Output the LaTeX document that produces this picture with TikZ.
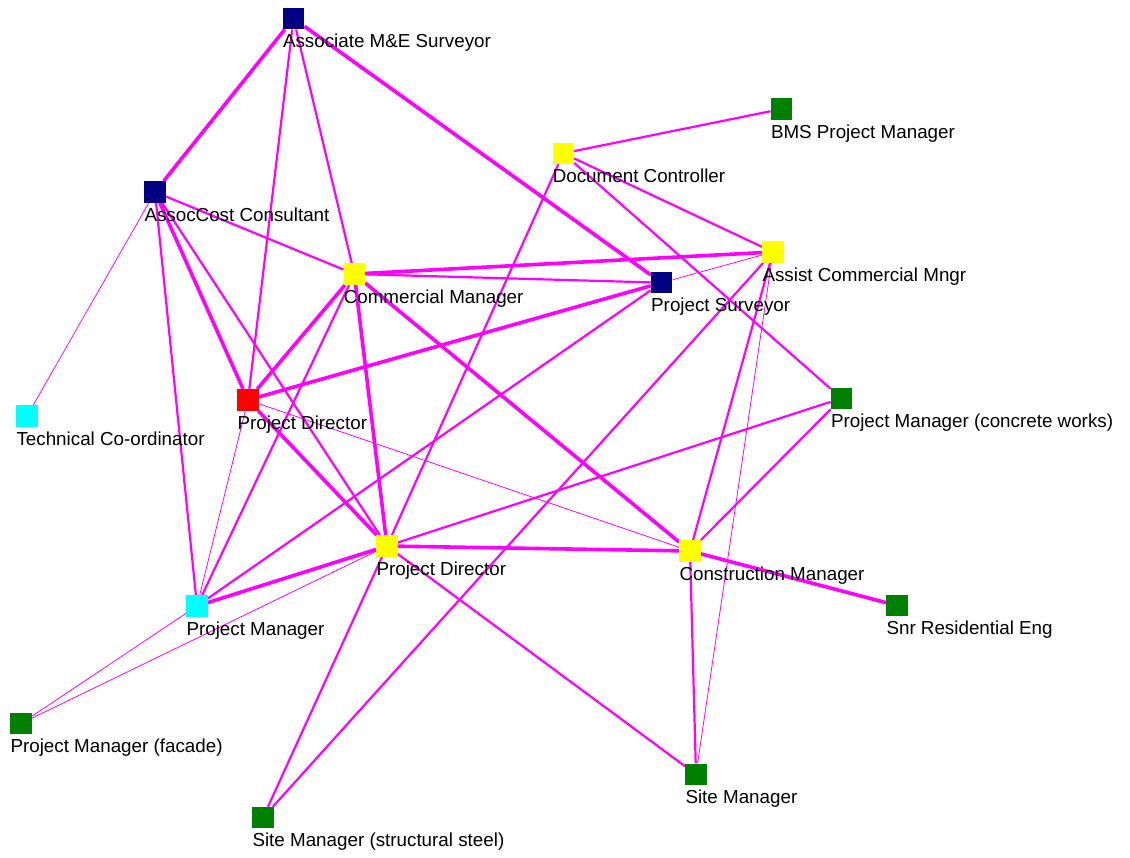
\documentclass[tikz,border=0pt]{standalone}
\usepackage{fontspec}
\setmainfont{Liberation Sans}
\usetikzlibrary{backgrounds}
\definecolor{linkpink}{RGB}{255,0,255}
\definecolor{navyblue}{RGB}{0,0,128}
\definecolor{darkgreen}{RGB}{0,128,0}
\definecolor{roleyellow}{RGB}{255,255,0}
\definecolor{rolecyan}{RGB}{0,255,255}
\definecolor{rolered}{RGB}{255,0,0}

\tikzset{
  every role/.style={rectangle, minimum size=21.5pt, inner sep=0pt},
  role label/.style={anchor=base west, inner sep=0pt, font=\fontsize{18.8}{22}\selectfont},
  thin link/.style={draw=linkpink, line width=0.8pt},
  link/.style={draw=linkpink, line width=2.2pt},
  thick link/.style={draw=linkpink, line width=3.6pt}
}

\begin{document}
\begin{tikzpicture}[x=1pt, y=-1pt]
\useasboundingbox (0,0) rectangle (1130,857);

            % draw nodes
                % roles
                \foreach \n/\x/\y/\c/\t in {
                    ame/293.5/18.5/navyblue/Associate M\&E Surveyor,
                    bms/781.5/109/darkgreen/BMS Project Manager,
                    doc/563.3/153.3/roleyellow/Document Controller,
                    acc/155/192/navyblue/AssocCost Consultant,
                    acm/773/252/roleyellow/Assist Commercial Mngr,
                    com/354.3/274/roleyellow/Commercial Manager,
                    ps/661.7/282.7/navyblue/Project Surveyor,
                    tech/27/416/rolecyan/Technical Co-ordinator,
                    pdr/248/400/rolered/Project Director,
                    pmc/841.5/398.3/darkgreen/Project Manager (concrete works),
                    pdy/387/546/roleyellow/Project Director,
                    cm/690/551/roleyellow/Construction Manager,
                    snr/897/605.5/darkgreen/Snr Residential Eng,
                    pm/197/606/rolecyan/Project Manager,
                    pmf/21/723.5/darkgreen/Project Manager (facade),
                    sm/696/774.3/darkgreen/Site Manager,
                    sms/263/817.7/darkgreen/Site Manager (structural steel)}
                {
                \node [every role, fill=\c] (\n) at (\x,\y) {};
                \node [role label] (\n-l) at (\x-10.7,\y+29.2) {\t};
                }

            \begin{pgfonlayer}{background}
            % heavy links
            \foreach \a/\b in {ame/acc, ame/ps, acc/pdr, com/acm, com/pdr, com/pdy,
                               com/cm, pdr/ps, pdr/pdy, pdy/pm, pdy/cm, cm/snr}
                \draw [thick link] (\a) -- (\b);

            % ordinary links
            \foreach \a/\b in {ame/pdr, ame/com, acc/com, acc/pm, acc/pdy, com/ps,
                               com/pm, doc/bms, doc/acm, doc/pmc, doc/pdy, ps/pm,
                               acm/sms, acm/cm, pmc/cm, pmc/pdy, pdy/sm, pdy/sms, cm/sm}
                \draw [link] (\a) -- (\b);

            % weak links
            \foreach \a/\b in {acc/tech, ps/acm, pdr/cm, pdr/pm, pdy/pmf, pm/pmf, acm/sm}
                \draw [thin link] (\a) -- (\b);
            \end{pgfonlayer}

\end{tikzpicture}
\end{document}
